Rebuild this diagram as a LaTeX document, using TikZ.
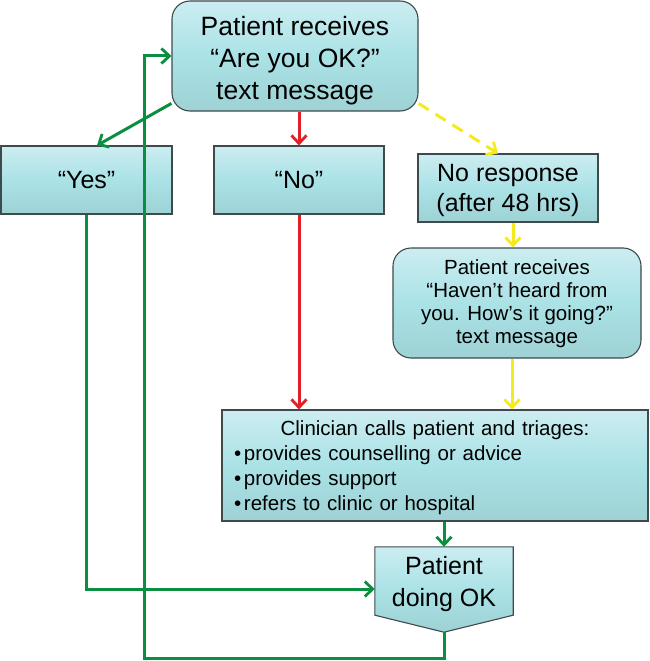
\documentclass[tikz,border=0pt]{standalone}
\usepackage{fontspec}
\setmainfont{Liberation Sans}
\usetikzlibrary{arrows.meta}
\definecolor{gline}{RGB}{10,142,64}
\definecolor{rline}{RGB}{226,30,38}
\definecolor{yline}{RGB}{244,234,30}
\definecolor{bord}{RGB}{62,74,76}
\definecolor{ftop}{RGB}{204,237,241}
\definecolor{fmid}{RGB}{170,226,230}
\definecolor{fbot}{RGB}{158,210,213}
\tikzset{
  box/.style={draw=bord, line width=1.1pt, top color=ftop, bottom color=fbot, middle color=fmid,
    inner sep=0pt, align=center, text=black},
  rbox/.style={box, rounded corners=18pt},
  conn/.style={line width=3pt, -{Straight Barb[length=8pt,width=15pt,line width=2.8pt]}},
  gconn/.style={conn, draw=gline},
  rconn/.style={conn, draw=rline},
  yconn/.style={conn, draw=yline},
}
\begin{document}
\begin{tikzpicture}[x=1pt,y=-1pt]
\useasboundingbox (0,0) rectangle (650,661);
\node[rbox, minimum width=246pt, minimum height=110pt, font=\fontsize{26.5}{32}\selectfont] (top) at (295,56)
  {\rule{0pt}{29pt}Patient receives\\“Are you OK?”\\text message};
\node[box, minimum width=171pt, minimum height=68pt, font=\fontsize{25}{30}\selectfont] (yes) at (86.5,180) {“Yes”};
\node[box, minimum width=170pt, minimum height=68pt, font=\fontsize{25}{30}\selectfont] (no) at (299,180) {“No”};
\node[box, minimum width=180pt, minimum height=68pt, font=\fontsize{25}{30}\selectfont] (nores) at (508,188)
  {\rule{0pt}{22pt}No response\\(after 48 hrs)};
\node[rbox, minimum width=248pt, minimum height=110pt, font=\fontsize{20.5}{23}\selectfont] (rb2) at (517,303)
  {\rule{0pt}{17pt}Patient receives\\“Haven’t heard from\\you. How’s it going?”\\text message};
\node[box, minimum width=426pt, minimum height=111pt, text width=402pt, inner xsep=12pt, align=left,
  font=\fontsize{20.5}{25}\selectfont] (clin) at (435,465.5)
  {{\centering\rule{0pt}{19pt}Clinician calls patient and triages:\par}\raggedright
   \makebox[10pt][l]{•}provides counselling or advice\par
   \makebox[10pt][l]{•}provides support\par
   \makebox[10pt][l]{•}refers to clinic or hospital\par};
% Patient doing OK (pentagon pointing down)
\node[minimum width=138pt, minimum height=68pt, inner sep=0pt] (ok) at (444,581) {};
\coordinate (okTip) at ([yshift=-17pt]ok.south);
\path[draw=bord, line width=1.1pt, top color=ftop, bottom color=fbot, middle color=fmid]
  (ok.north west) -- (ok.north east) -- (ok.south east) -- (okTip) -- (ok.south west) -- cycle;
\node[align=center, font=\fontsize{25}{32}\selectfont, inner sep=0pt, yshift=-3pt] (oktext) at (ok.center) {Patient\\doing OK};
% connectors
\draw[gconn] (top.201) -- ([xshift=10.5pt]yes.north);
\draw[rconn] (top.south -| no.north) -- (no.north);
\draw[yconn, dash pattern=on 12pt off 8pt] (top.339) -- ([xshift=-10pt]nores.north);
\draw[yconn] ([xshift=5pt]nores.south) -- ([xshift=5pt]nores.south |- rb2.north);
\draw[yconn] ([xshift=-5pt]rb2.south) -- ([xshift=-5pt]rb2.south |- clin.north);
\draw[rconn] (no.south) -- (no.south |- clin.north);
\draw[gconn] (ok.north |- clin.south) -- (ok.north);
\draw[gconn] (yes.south) |- ([yshift=-8pt]ok.west);
\coordinate (loopBL) at (144,658);
\draw[gconn] (okTip) |- (loopBL) |- (top.west);
\end{tikzpicture}
\end{document}
